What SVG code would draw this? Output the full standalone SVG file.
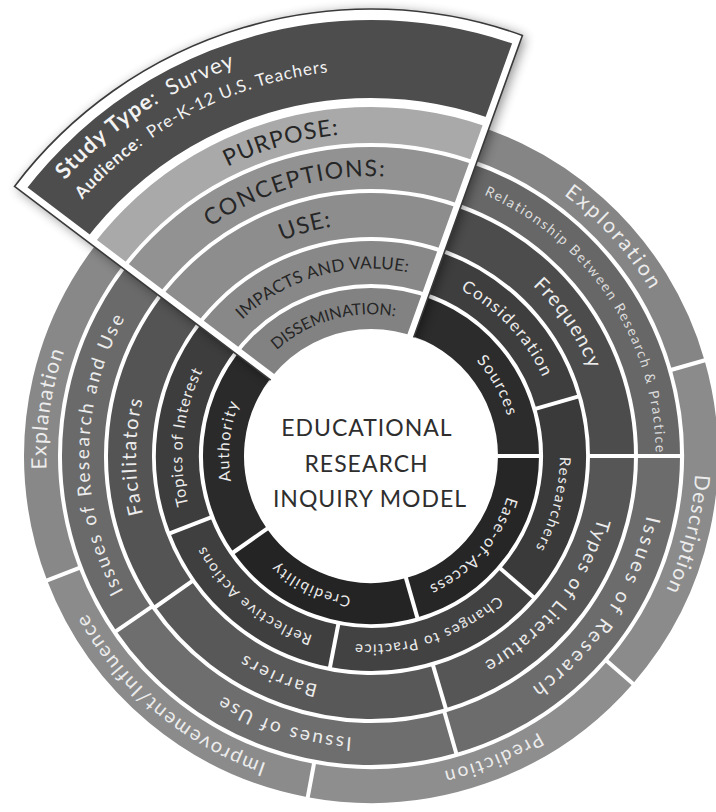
<svg xmlns="http://www.w3.org/2000/svg" width="716" height="812" viewBox="0 0 716 812">
<defs>
<style>
 .arc{fill:none}
 .sep line{stroke:#fff;stroke-width:4}
 text{font-family:Lato,"Open Sans","DejaVu Sans",sans-serif}
 .w{fill:#ececec}
 .d{fill:#262626}
 .r1{stroke-width:41}
 .r2{stroke-width:43}
 .r3{stroke-width:44}
 .r4{stroke-width:42}
 .r5{stroke-width:34}
</style>
<filter id="soft" x="-20%" y="-20%" width="140%" height="140%"><feGaussianBlur stdDeviation="6"/></filter>
<clipPath id="fanClip"><path d="M371,456 L14.5,186.4 A447,447 0 0 1 522.4,35.4 Z"/></clipPath>
<!-- label baselines: full clockwise circles starting at 240deg -->
<path id="t142" d="M300,333.02 A142,142 0 1 1 442,578.98 A142,142 0 1 1 300,333.02"/>
<path id="t188" d="M277,293.19 A188,188 0 1 1 465,618.81 A188,188 0 1 1 277,293.19"/>
<path id="t235" d="M253.5,252.48 A235,235 0 1 1 488.5,659.52 A235,235 0 1 1 253.5,252.48"/>
<path id="t282" d="M230,211.78 A282,282 0 1 1 512,700.22 A282,282 0 1 1 230,211.78"/>
<path id="t284" d="M229,210.05 A284,284 0 1 1 513,701.95 A284,284 0 1 1 229,210.05"/>
<path id="t323" d="M209.5,176.28 A323,323 0 1 1 532.5,735.72 A323,323 0 1 1 209.5,176.28"/>
<!-- fan baselines: arcs from 200deg to 300deg -->
<path id="f412" d="M-16.15,315.09 A412,412 0 0 1 577,99.2"/>
<path id="f386" d="M8.28,323.98 A386,386 0 0 1 564,121.71"/>
<path id="f323" d="M67.76,345.63 A322.7,322.7 0 0 1 532.35,176.53"/>
<path id="f280" d="M108.17,360.34 A279.7,279.7 0 0 1 510.85,213.77"/>
<path id="f233" d="M152.33,376.41 A232.7,232.7 0 0 1 487.35,254.48"/>
<path id="f187" d="M194.9,391.9 A187.4,187.4 0 0 1 464.7,293.71"/>
<path id="f142" d="M237.84,407.54 A141.7,141.7 0 0 1 441.85,333.29"/>
</defs>
<rect width="716" height="812" fill="#fff"/>

<!-- ring 1 -->
<g id="sources"><circle class="arc r1" cx="371" cy="456" r="147.5" pathLength="360" stroke="#2c2c2c" stroke-dasharray="80 400" transform="rotate(280 371 456)"/>
<text class="w" font-size="16" letter-spacing="1.5" text-anchor="middle"><textPath href="#t142" startOffset="25.28%">Sources</textPath></text></g>
<g id="ease-of-access"><circle class="arc r1" cx="371" cy="456" r="147.5" pathLength="360" stroke="#262626" stroke-dasharray="74 400"/>
<text class="w" font-size="16" letter-spacing="1.2" text-anchor="middle"><textPath href="#t142" startOffset="44.86%">Ease-of-Access</textPath></text></g>
<g id="credibility"><circle class="arc r1" cx="371" cy="456" r="147.5" pathLength="360" stroke="#242424" stroke-dasharray="71 400" transform="rotate(74 371 456)"/>
<text class="w" font-size="15" letter-spacing="1.5" text-anchor="middle"><textPath href="#t142" startOffset="65.28%">Credibility</textPath></text></g>
<g id="authority"><circle class="arc r1" cx="371" cy="456" r="147.5" pathLength="360" stroke="#2a2a2a" stroke-dasharray="82 400" transform="rotate(145 371 456)"/>
<text class="w" font-size="16" letter-spacing="1.5" text-anchor="middle"><textPath href="#t142" startOffset="85%">Authority</textPath></text></g>

<!-- ring 2 -->
<g id="consideration"><circle class="arc r2" cx="371" cy="456" r="193.5" pathLength="360" stroke="#3e3e3e" stroke-dasharray="64 400" transform="rotate(280 371 456)"/>
<text class="w" font-size="17" letter-spacing="1.5" text-anchor="middle"><textPath href="#t188" startOffset="21.39%">Consideration</textPath></text></g>
<g id="researchers"><circle class="arc r2" cx="371" cy="456" r="193.5" pathLength="360" stroke="#3a3a3a" stroke-dasharray="57 400" transform="rotate(344 371 456)"/>
<text class="w" font-size="15" letter-spacing="1.6" text-anchor="middle"><textPath href="#t188" startOffset="37.5%">Researchers</textPath></text></g>
<g id="changes-to-practice"><circle class="arc r2" cx="371" cy="456" r="193.5" pathLength="360" stroke="#424242" stroke-dasharray="60 400" transform="rotate(41 371 456)"/>
<text class="w" font-size="15" letter-spacing="1.3" text-anchor="middle"><textPath href="#t188" startOffset="53.19%">Changes to Practice</textPath></text></g>
<g id="reflective-actions"><circle class="arc r2" cx="371" cy="456" r="193.5" pathLength="360" stroke="#3f3f3f" stroke-dasharray="58 400" transform="rotate(101 371 456)"/>
<text class="w" font-size="15" letter-spacing="1.5" text-anchor="middle"><textPath href="#t188" startOffset="69.44%">Reflective Actions</textPath></text></g>
<g id="topics-of-interest"><circle class="arc r2" cx="371" cy="456" r="193.5" pathLength="360" stroke="#3d3d3d" stroke-dasharray="68 400" transform="rotate(159 371 456)"/>
<text class="w" font-size="16" letter-spacing="1" text-anchor="middle"><textPath href="#t188" startOffset="85%">Topics of Interest</textPath></text></g>

<!-- ring 3 -->
<g id="frequency"><circle class="arc r3" cx="371" cy="456" r="241" pathLength="360" stroke="#4c4c4c" stroke-dasharray="80 400" transform="rotate(280 371 456)"/>
<text class="w" font-size="20" letter-spacing="1.2" text-anchor="middle"><textPath href="#t235" startOffset="23.89%">Frequency</textPath></text></g>
<g id="types-of-literature"><circle class="arc r3" cx="371" cy="456" r="241" pathLength="360" stroke="#565656" stroke-dasharray="73.5 400"/>
<text class="w" font-size="19" letter-spacing="1.8" text-anchor="middle"><textPath href="#t235" startOffset="44.03%">Types of Literature</textPath></text></g>
<g id="barriers"><circle class="arc r3" cx="371" cy="456" r="241" pathLength="360" stroke="#585858" stroke-dasharray="71.5 400" transform="rotate(73.5 371 456)"/>
<text class="w" font-size="18" letter-spacing="2.5" text-anchor="middle"><textPath href="#t235" startOffset="64.72%">Barriers</textPath></text></g>
<g id="facilitators"><circle class="arc r3" cx="371" cy="456" r="241" pathLength="360" stroke="#545454" stroke-dasharray="82 400" transform="rotate(145 371 456)"/>
<text class="w" font-size="20" letter-spacing="1.8" text-anchor="middle"><textPath href="#t235" startOffset="83.33%">Facilitators</textPath></text></g>

<!-- ring 4 -->
<g id="relationship"><circle class="arc r4" cx="371" cy="456" r="288" pathLength="360" stroke="#676767" stroke-dasharray="80 400" transform="rotate(280 371 456)"/>
<text fill="#dcdcdc" font-size="14" letter-spacing="1.75" text-anchor="middle"><textPath href="#t284" startOffset="24.03%">Relationship Between Research &amp; Practice</textPath></text></g>
<g id="issues-of-research"><circle class="arc r4" cx="371" cy="456" r="288" pathLength="360" stroke="#6c6c6c" stroke-dasharray="74 400"/>
<text class="w" font-size="20" letter-spacing="3" text-anchor="middle"><textPath href="#t282" startOffset="42.78%">Issues of Research</textPath></text></g>
<g id="issues-of-use"><circle class="arc r4" cx="371" cy="456" r="288" pathLength="360" stroke="#6e6e6e" stroke-dasharray="71.5 400" transform="rotate(74 371 456)"/>
<text class="w" font-size="19" letter-spacing="2.3" text-anchor="middle"><textPath href="#t282" startOffset="63.33%">Issues of Use</textPath></text></g>
<g id="issues-of-research-and-use"><circle class="arc r4" cx="371" cy="456" r="288" pathLength="360" stroke="#6a6a6a" stroke-dasharray="81.5 400" transform="rotate(145.5 371 456)"/>
<text class="w" font-size="19" letter-spacing="2.4" text-anchor="middle"><textPath href="#t282" startOffset="83.47%">Issues of Research and Use</textPath></text></g>

<!-- ring 5 -->
<g id="exploration"><circle class="arc r5" cx="371" cy="456" r="330" pathLength="360" stroke="#858585" stroke-dasharray="64 400" transform="rotate(280 371 456)"/>
<text class="w" font-size="21" letter-spacing="2.4" text-anchor="middle"><textPath href="#t323" startOffset="21.67%">Exploration</textPath></text></g>
<g id="description"><circle class="arc r5" cx="371" cy="456" r="330" pathLength="360" stroke="#8b8b8b" stroke-dasharray="57 400" transform="rotate(344 371 456)"/>
<text class="w" font-size="21" letter-spacing="1.3" text-anchor="middle"><textPath href="#t323" startOffset="37.22%">Description</textPath></text></g>
<g id="prediction"><circle class="arc r5" cx="371" cy="456" r="330" pathLength="360" stroke="#8e8e8e" stroke-dasharray="59.5 400" transform="rotate(41 371 456)"/>
<text class="w" font-size="19" letter-spacing="2" text-anchor="middle"><textPath href="#t323" startOffset="52.22%">Prediction</textPath></text></g>
<g id="improvement-influence"><circle class="arc r5" cx="371" cy="456" r="330" pathLength="360" stroke="#8b8b8b" stroke-dasharray="58.5 400" transform="rotate(100.5 371 456)"/>
<text class="w" font-size="20" letter-spacing="1.6" text-anchor="middle"><textPath href="#t323" startOffset="69.44%">Improvement/Influence</textPath></text></g>
<g id="explanation"><circle class="arc r5" cx="371" cy="456" r="330" pathLength="360" stroke="#888888" stroke-dasharray="68 400" transform="rotate(159 371 456)"/>
<text class="w" font-size="21" letter-spacing="1.2" text-anchor="middle"><textPath href="#t323" startOffset="85.67%">Explanation</textPath></text></g>

<!-- white radial separators between segments -->
<g id="separators" class="sep">
 <line x1="496" y1="456" x2="541" y2="456"/>
 <line x1="496" y1="456" x2="541" y2="456" transform="rotate(74 371 456)"/>
 <line x1="496" y1="456" x2="541" y2="456" transform="rotate(145 371 456)"/>
 <line x1="541" y1="456" x2="588" y2="456" transform="rotate(344 371 456)"/>
 <line x1="541" y1="456" x2="588" y2="456" transform="rotate(41 371 456)"/>
 <line x1="541" y1="456" x2="588" y2="456" transform="rotate(101 371 456)"/>
 <line x1="541" y1="456" x2="588" y2="456" transform="rotate(159 371 456)"/>
 <line x1="588" y1="456" x2="636" y2="456"/>
 <line x1="588" y1="456" x2="636" y2="456" transform="rotate(73.5 371 456)"/>
 <line x1="588" y1="456" x2="636" y2="456" transform="rotate(145 371 456)"/>
 <line x1="636" y1="456" x2="682" y2="456"/>
 <line x1="636" y1="456" x2="682" y2="456" transform="rotate(74 371 456)"/>
 <line x1="636" y1="456" x2="682" y2="456" transform="rotate(145.5 371 456)"/>
 <line x1="682" y1="456" x2="722" y2="456" transform="rotate(344 371 456)"/>
 <line x1="682" y1="456" x2="722" y2="456" transform="rotate(41 371 456)"/>
 <line x1="682" y1="456" x2="722" y2="456" transform="rotate(100.5 371 456)"/>
 <line x1="682" y1="456" x2="722" y2="456" transform="rotate(159 371 456)"/>
</g>

<!-- raised study fan -->
<g id="study-fan">
 <path d="M371,456 L14.5,186.4 A447,447 0 0 1 522.4,35.4 Z" fill="#000" opacity="0.45" filter="url(#soft)" transform="translate(3,2)"/>
 <path d="M371,456 L14.5,186.4 A447,447 0 0 1 522.4,35.4 Z" fill="#fff"/>
 <g clip-path="url(#fanClip)" fill="none">
  <circle cx="371" cy="456" r="397" stroke="#4d4d4d" stroke-width="78"/>
  <circle cx="371" cy="456" r="331" stroke="#a9a9a9" stroke-width="36"/>
  <circle cx="371" cy="456" r="288" stroke="#929292" stroke-width="42"/>
  <circle cx="371" cy="456" r="241" stroke="#8d8d8d" stroke-width="44"/>
  <circle cx="371" cy="456" r="193.5" stroke="#888888" stroke-width="43"/>
  <circle cx="371" cy="456" r="147.5" stroke="#828282" stroke-width="41"/>
  <path d="M371,456 L14.5,186.4 A447,447 0 0 1 522.4,35.4 Z" stroke="#fff" stroke-width="14"/>
 </g>
 <path d="M371,456 L14.5,186.4 A447,447 0 0 1 522.4,35.4 Z" fill="none" stroke="#3a3a3a" stroke-width="1.6"/>
</g>

<!-- centre disc -->
<g id="centre">
 <circle cx="371" cy="456" r="126" fill="#fff"/>
 <text fill="#2e2e2e" font-size="23" letter-spacing="1" text-anchor="middle">
  <tspan x="370" y="436">EDUCATIONAL</tspan>
  <tspan x="370" y="472">RESEARCH</tspan>
  <tspan x="370" y="507">INQUIRY MODEL</tspan>
 </text>
</g>

<!-- fan labels -->
<g id="study-type"><text fill="#f2f2f2" font-size="22" letter-spacing="1"><textPath href="#f412" startOffset="22%"><tspan font-weight="bold">Study Type</tspan>: <tspan dx="5">Survey</tspan></textPath></text>
<text fill="#f2f2f2" font-size="17" letter-spacing="0.9"><textPath href="#f386" startOffset="21.6%"><tspan font-weight="bold">Audience</tspan>: <tspan dx="4">Pre-K-12 U.S. Teachers</tspan></textPath></text></g>
<g id="purpose"><text class="d" font-size="23" letter-spacing="1" text-anchor="middle"><textPath href="#f323" startOffset="54%">PURPOSE:</textPath></text></g>
<g id="conceptions"><text class="d" font-size="23" letter-spacing="1.5" text-anchor="middle"><textPath href="#f280" startOffset="54%">CONCEPTIONS:</textPath></text></g>
<g id="use"><text class="d" font-size="23" letter-spacing="1" text-anchor="middle"><textPath href="#f233" startOffset="54%">USE:</textPath></text></g>
<g id="impacts-and-value"><text class="d" font-size="17" letter-spacing="0.3" text-anchor="middle"><textPath href="#f187" startOffset="54%">IMPACTS AND VALUE:</textPath></text></g>
<g id="dissemination"><text class="d" font-size="16" text-anchor="middle"><textPath href="#f142" startOffset="54%">DISSEMINATION:</textPath></text></g>
</svg>
